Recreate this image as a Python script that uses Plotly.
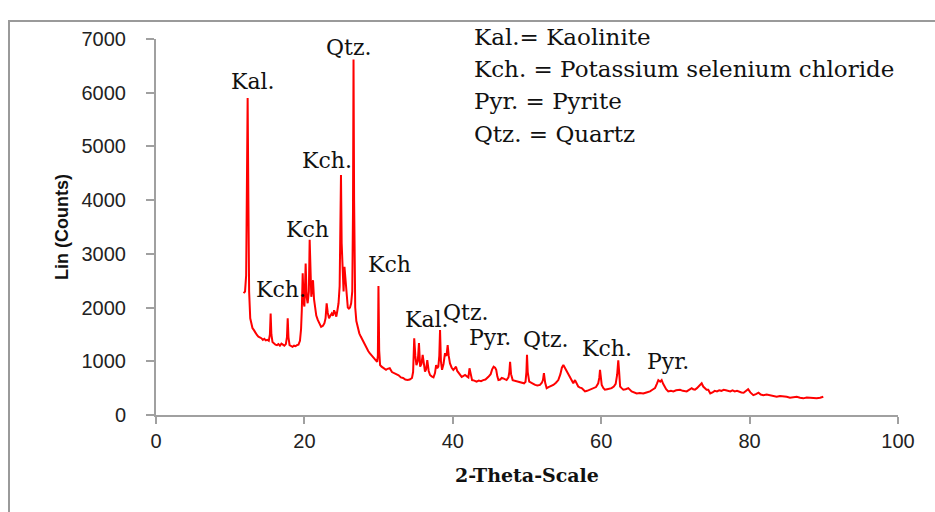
import plotly.graph_objects as go

# ---- data (2-theta in degrees, intensity in counts) ----
two_theta = [
    11.8, 12.0, 12.15, 12.25, 12.35, 12.45, 12.55, 12.7, 12.85, 13.0, 13.2, 13.4, 13.6, 13.8, 14.0,
    14.2, 14.4, 14.6, 14.8, 15.0, 15.2, 15.35, 15.45, 15.55, 15.7, 15.9, 16.1, 16.3, 16.5, 16.7,
    16.9, 17.1, 17.3, 17.5, 17.65, 17.75, 17.85, 18.0, 18.2, 18.4, 18.6, 18.8, 19.0, 19.2, 19.4,
    19.55, 19.65, 19.77, 19.9, 20.0, 20.17, 20.3, 20.44, 20.6, 20.71, 20.82, 20.93, 21.05, 21.16,
    21.3, 21.43, 21.6, 21.8, 22.0, 22.25, 22.5, 22.7, 22.85, 23.0, 23.15, 23.32, 23.5, 23.68,
    23.85, 24.0, 24.15, 24.3, 24.45, 24.6, 24.75, 24.85, 24.93, 25.02, 25.15, 25.28, 25.4, 25.55,
    25.7, 25.85, 26.0, 26.15, 26.3, 26.45, 26.55, 26.62, 26.7, 26.85, 27.0, 27.2, 27.4, 27.6,
    27.8, 28.0, 28.2, 28.4, 28.6, 28.8, 29.0, 29.2, 29.4, 29.6, 29.8, 29.9, 29.98, 30.08, 30.2,
    30.4, 30.6, 30.8, 31.0, 31.2, 31.5, 31.8, 32.1, 32.4, 32.7, 33.0, 33.3, 33.6, 33.9, 34.2,
    34.5, 34.65, 34.8, 34.95, 35.1, 35.28, 35.44, 35.6, 35.78, 35.94, 36.1, 36.25, 36.4, 36.56,
    36.75, 36.93, 37.15, 37.4, 37.6, 37.75, 37.9, 38.05, 38.18, 38.28, 38.4, 38.55, 38.75, 38.95,
    39.15, 39.31, 39.45, 39.62, 39.85, 40.07, 40.25, 40.43, 40.6, 40.8, 41.0, 41.2, 41.45, 41.65,
    41.9, 42.1, 42.25, 42.4, 42.6, 42.9, 43.2, 43.5, 43.8, 44.1, 44.4, 44.8, 45.1, 45.3, 45.5,
    45.7, 45.85, 46.0, 46.15, 46.4, 46.6, 46.8, 47.0, 47.25, 47.5, 47.62, 47.72, 47.85, 48.07,
    48.3, 48.6, 48.85, 49.1, 49.35, 49.6, 49.8, 49.92, 50.0, 50.1, 50.3, 50.6, 50.85, 51.1, 51.4,
    51.75, 52.0, 52.15, 52.28, 52.45, 52.65, 52.9, 53.2, 53.55, 53.9, 54.22, 54.5, 54.7, 54.9,
    55.1, 55.35, 55.6, 55.8, 56.05, 56.24, 56.47, 56.7, 56.9, 57.15, 57.37, 57.6, 57.82, 58.1,
    58.5, 58.93, 59.3, 59.6, 59.75, 59.84, 59.95, 60.07, 60.3, 60.5, 60.8, 61.1, 61.4, 61.7,
    61.95, 62.15, 62.3, 62.42, 62.55, 62.75, 62.98, 63.3, 63.65, 64.1, 64.45, 64.78, 65.2, 65.67,
    66.1, 66.58, 66.9, 67.25, 67.5, 67.7, 67.95, 68.15, 68.35, 68.5, 68.75, 69.04, 69.4, 69.72,
    70.1, 70.62, 71.0, 71.52, 71.9, 72.2, 72.4, 72.64, 72.9, 73.1, 73.35, 73.54, 73.75, 74.0,
    74.2, 74.43, 74.7, 75.0, 75.3, 75.6, 75.9, 76.2, 76.5, 76.8, 77.1, 77.4, 77.7, 78.0, 78.3,
    78.6, 78.9, 79.2, 79.5, 79.8, 80.1, 80.5, 80.85, 81.2, 81.5, 81.85, 82.3, 82.75, 83.2, 83.65,
    84.1, 84.54, 85.0, 85.44, 85.9, 86.35, 86.8, 87.24, 87.7, 88.14, 88.6, 89.04, 89.5, 89.93,
]

counts = [
    2270, 2300, 2600, 4300, 5900, 4000, 2300, 1800, 1680, 1620, 1580, 1520, 1490, 1460, 1450,
    1430, 1400, 1420, 1390, 1400, 1380, 1500, 1890, 1500, 1360, 1330, 1310, 1300, 1320, 1290,
    1330, 1310, 1290, 1320, 1450, 1800, 1450, 1300, 1280, 1270, 1290, 1280, 1300, 1310, 1380,
    1600, 1950, 2640, 2100, 2020, 2820, 2200, 2080, 2300, 3260, 2400, 2200, 2350, 2510,
    2150, 2020, 1850, 1770, 1700, 1640, 1660, 1710, 1800, 2080, 1900, 1800, 1850, 1890,
    1850, 1950, 1900, 1830, 1950, 2080, 2400, 3400, 4470, 3200, 2640, 2300, 2760, 2450,
    2150, 2000, 1980, 2000, 2080, 2300, 3800, 6620, 4000, 2000, 1750, 1600, 1520, 1460,
    1400, 1350, 1300, 1240, 1190, 1150, 1120, 1080, 1050, 1010, 990, 1100, 2400, 1200, 930,
    900, 880, 850, 840, 860, 870, 800, 780, 745, 740, 700, 690, 660, 650, 660,
    690, 800, 1430, 1100, 930, 1000, 1340, 900, 950, 1120, 900, 810, 850, 1020,
    820, 745, 720, 700, 780, 930, 870, 900, 1100, 1580, 1000, 840, 950, 1150,
    1100, 1300, 1100, 960, 880, 840, 870, 900, 820, 790, 760, 710, 730, 745,
    720, 700, 870, 760, 650, 640, 620, 640, 630, 650, 660, 710, 760, 850, 900,
    880, 840, 720, 650, 660, 690, 680, 660, 650, 700, 800, 990, 760, 650,
    640, 630, 620, 610, 600, 590, 620, 800, 1120, 800, 620, 590, 580, 560, 550,
    560, 600, 650, 780, 600, 500, 520, 540, 560, 600, 650, 760, 880, 930,
    880, 810, 740, 680, 620, 590, 650, 580, 530, 510, 500, 470, 440, 450,
    470, 500, 520, 590, 700, 840, 680, 560, 500, 470, 480, 490, 500, 530,
    580, 750, 1020, 800, 530, 500, 470, 480, 500, 440, 420, 400, 410, 400,
    420, 440, 470, 500, 580, 650, 620, 650, 580, 530, 480, 440, 450, 440,
    460, 470, 450, 440, 470, 500, 480, 470, 500, 530, 560, 590, 530, 500,
    470, 470, 400, 420, 450, 440, 460, 450, 470, 460, 450, 440, 460, 440, 450,
    430, 420, 415, 440, 480, 420, 370, 390, 415, 380, 370, 380, 370, 360, 340,
    355, 350, 340, 320, 330, 340, 320, 310, 325, 320, 305, 310, 320, 340,
]

x_ticks = [0, 20, 40, 60, 80, 100]
y_ticks = [0, 1000, 2000, 3000, 4000, 5000, 6000, 7000]

peak_labels = ["Kal.", "Qtz.", "Kch.", "Kch", "Kch.", "Kch", "Kal.", "Qtz.", "Pyr.", "Qtz.", "Kch.", "Pyr."]
legend_lines = [
    "Kal.= Kaolinite",
    "Kch. = Potassium selenium chloride",
    "Pyr. = Pyrite",
    "Qtz. = Quartz",
]

# ---- layout (label anchor points in data units, placed beside the peaks) ----
label_positions = [
    (13.07, 6200), (25.88, 6850), (23.1, 4730), (20.4, 3450), (16.9, 2340), (31.47, 2810),
    (36.5, 1770), (41.7, 1900), (45.0, 1450), (52.5, 1400), (60.8, 1230), (69.0, 1000),
]

W, H = 935, 512
L, R, T, B = 156, 37, 39, 97
PW, PH = W - L - R, H - T - B


def px_x(px):
    return (px - L) / PW


def px_y(py):
    return (H - B - py) / PH


fig = go.Figure()
fig.add_trace(go.Scatter(
    x=two_theta, y=counts, mode="lines",
    line=dict(color="#ff0000", width=2),
    showlegend=False, hoverinfo="x+y",
))

serif = "DejaVu Serif, Liberation Serif, serif"
sans = "Liberation Sans, Arial, sans-serif"

annotations = []
for text, (lx, ly) in zip(peak_labels, label_positions):
    annotations.append(dict(
        x=lx, y=ly, xref="x", yref="y", text=text, showarrow=False,
        xanchor="center", yanchor="middle",
        font=dict(family=serif, size=22, color="#111111"),
    ))

legend_y_px = [36.5, 69.2, 101.0, 133.5]
for text, py in zip(legend_lines, legend_y_px):
    annotations.append(dict(
        x=px_x(472), y=px_y(py), xref="paper", yref="paper", text=text, showarrow=False,
        xanchor="left", yanchor="middle",
        font=dict(family=serif, size=23, color="#111111"),
    ))

fig.update_layout(
    width=W, height=H, autosize=False,
    margin=dict(l=L, r=R, t=T, b=B, pad=0),
    paper_bgcolor="white", plot_bgcolor="white",
    annotations=annotations,
    shapes=[dict(
        type="rect", xref="paper", yref="paper",
        x0=px_x(9), x1=px_x(960), y0=px_y(540), y1=px_y(21),
        line=dict(color="#9a9a9a", width=2), fillcolor="rgba(0,0,0,0)", layer="above",
    )],
    xaxis=dict(
        range=[0, 100], tickvals=x_ticks, ticks="outside", ticklen=7, tickwidth=1.5,
        tickcolor="#a0a0a0", showline=True, linecolor="#a0a0a0", linewidth=2,
        showgrid=False, zeroline=False,
        tickfont=dict(family=sans, size=20, color="#222222"),
        title=dict(text="2-Theta-Scale", standoff=18,
                   font=dict(family=serif, size=19, color="#111111", weight="bold")),
    ),
    yaxis=dict(
        range=[0, 7000], tickvals=y_ticks, ticks="outside", ticklen=8, tickwidth=1.5,
        tickcolor="#a0a0a0", showline=True, linecolor="#a0a0a0", linewidth=2,
        showgrid=False, zeroline=False, ticklabelstandoff=16,
        tickfont=dict(family=sans, size=20, color="#222222"),
        title=dict(text="Lin (Counts)", standoff=8,
                   font=dict(family=sans, size=18, color="#111111", weight="bold")),
    ),
)

fig.write_html("out.html")
